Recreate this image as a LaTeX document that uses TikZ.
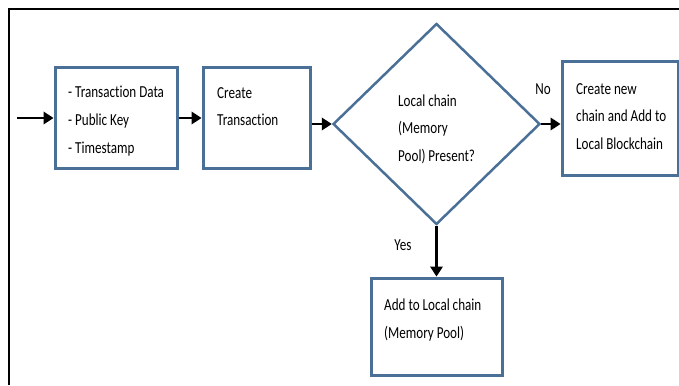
\documentclass[tikz,border=0pt]{standalone}
\usepackage{fontspec}
\setmainfont{Carlito}[FakeStretch=0.78,Ligatures=NoCommon]
\usetikzlibrary{arrows.meta,shapes.geometric}
\definecolor{boxblue}{RGB}{74,112,152}
\begin{document}
\begin{tikzpicture}[x=1pt,y=-1pt,
  box/.style={draw=boxblue,line width=3pt,inner sep=0pt,fill=white},
  dec/.style={shape=diamond,draw=boxblue,line width=2.5pt,inner sep=0pt},
  txt/.style={anchor=base west,inner sep=0pt,align=left,
              font=\fontsize{16.8}{27.5}\selectfont},
  lbl/.style={anchor=base,inner sep=0pt,font=\fontsize{16.8}{20}\selectfont},
  flow/.style={draw=black,line width=2.2pt,-{Triangle[length=10pt,width=12.5pt]}}]
\useasboundingbox (0,0) rectangle (679,385);
\fill[white] (0,0) rectangle (679,385);
% outer frame (top and left edges)
\draw[line width=2.2pt] (9,385) -- (9,9) -- (679,9);

% boxes
\node[box,minimum width=122pt,minimum height=100pt] (inputs) at (116,118) {};
\node[box,minimum width=107pt,minimum height=100pt] (create) at (256.5,118) {};
\node[dec,minimum width=207pt,minimum height=201pt] (check) at (436.5,124) {};
\node[box,minimum width=116pt,minimum height=113pt] (newchain) at (620,118.5) {};
\node[box,minimum width=131pt,minimum height=97pt] (addpool) at (436.5,326.5) {};

% texts (anchored at the baseline of their last line)
\node[txt] (t1) at (68,153) {- Transaction Data\\- Public Key\\- Timestamp};
\node[txt] (t2) at (217,125.5) {Create\\Transaction};
\node[txt] (t3) at (398,161) {Local chain\\(Memory\\Pool) Present?};
\node[txt] (t4) at (576,149.5) {Create new\\chain and Add to\\Local Blockchain};
\node[txt] (t5) at (384,338) {Add to Local chain\\(Memory Pool)};
\node[lbl] (no) at (543,95) {No};
\node[lbl] (yes) at (403,250) {Yes};

% connectors
\coordinate (start) at (17,118);
\draw[flow] (start) -- (inputs.west);
\draw[flow] (inputs.east) -- (create.west);
\draw[flow] (check.west -| create.east) -- (check.west);
\draw[flow] (check.east) -- (check.east -| newchain.west);
\draw[flow] (check.south) -- (addpool.north);
\end{tikzpicture}
\end{document}
